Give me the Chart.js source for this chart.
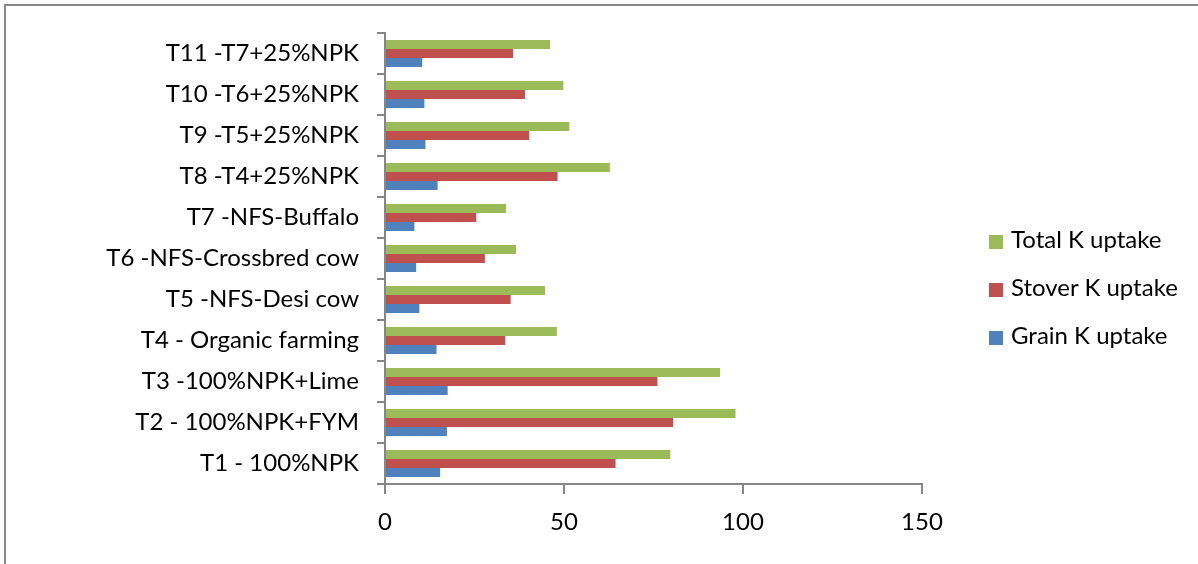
<!DOCTYPE html>
<html>
<head>
<meta charset="utf-8">
<script src="https://cdn.jsdelivr.net/npm/chart.js@4/dist/chart.umd.min.js"></script>
<style>
  html, body { margin: 0; padding: 0; background: #fff; }
  #wrap { position: relative; width: 1198px; height: 564px; overflow: hidden; }
  #c { position: absolute; left: 0; top: 0; }
  #frame { position: absolute; left: 4px; top: 4px; right: -10px; bottom: -10px;
           border-left: 2px solid #8a8a8a; border-top: 2px solid #8a8a8a; pointer-events: none; }
  #legend { position: absolute; left: 989px; top: 224px; font-family: Lato, sans-serif; font-size: 24px; color: #000; }
  .item { position: relative; height: 48px; line-height: 30px; white-space: nowrap; }
  .box { display: inline-block; width: 14px; height: 14px; margin-right: 8px; vertical-align: -1px; }
</style>
</head>
<body>
<div id="wrap">
  <canvas id="c" width="1198" height="564"></canvas>
  <div id="frame"></div>
  <div id="legend"></div>
</div>
<script>
const categories = [
  "T1 - 100%NPK",
  "T2 - 100%NPK+FYM",
  "T3 -100%NPK+Lime",
  "T4 - Organic farming",
  "T5 -NFS-Desi cow",
  "T6 -NFS-Crossbred cow",
  "T7 -NFS-Buffalo",
  "T8 -T4+25%NPK",
  "T9 -T5+25%NPK",
  "T10 -T6+25%NPK",
  "T11 -T7+25%NPK"
];
const totalK  = [79.7, 97.9, 93.6, 48.0, 44.7, 36.6, 33.8, 62.8, 51.5, 49.8, 46.1];
const stoverK = [64.4, 80.5, 76.1, 33.6, 35.1, 27.9, 25.5, 48.2, 40.3, 39.1, 35.8];
const grainK  = [15.4, 17.3, 17.5, 14.4,  9.6,  8.7,  8.2, 14.7, 11.3, 11.0, 10.4];
const xTicks = [0, 50, 100, 150];

const FONT = "Lato, sans-serif";
const AXIS = "#868686";

const datasets = [
  { label: "Total K uptake",  data: totalK,  backgroundColor: "#9BBB59" },
  { label: "Stover K uptake", data: stoverK, backgroundColor: "#C0504D" },
  { label: "Grain K uptake",  data: grainK,  backgroundColor: "#4F81BD" }
];

const chart = new Chart(document.getElementById("c"), {
  type: "bar",
  data: { labels: categories, datasets: datasets.map(d => Object.assign({ categoryPercentage: 0.66, barPercentage: 1.0, borderWidth: 0 }, d)) },
  options: {
    indexAxis: "y",
    responsive: false,
    animation: false,
    devicePixelRatio: 1,
    layout: { padding: { top: 33, right: 276, bottom: 0, left: 0 } },
    plugins: { legend: { display: false }, tooltip: { enabled: false } },
    scales: {
      x: {
        min: 0, max: 150,
        afterBuildTicks: s => { s.ticks = xTicks.map(v => ({ value: v })); },
        afterFit: s => { s.height = 80; },
        border: { color: AXIS, width: 2 },
        grid: { drawOnChartArea: false, drawTicks: true, tickLength: 10, color: AXIS, lineWidth: 2 },
        ticks: { color: "#000", font: { family: FONT, size: 24 }, padding: 14, maxRotation: 0 }
      },
      y: {
        reverse: true,
        afterFit: s => { s.width = 385; },
        border: { color: AXIS, width: 2 },
        grid: { drawOnChartArea: false, drawTicks: true, tickLength: 8, color: AXIS, lineWidth: 2, offset: true },
        ticks: { color: "#000", font: { family: FONT, size: 24 }, padding: 18, autoSkip: false }
      }
    }
  }
});

const leg = document.getElementById("legend");
chart.data.datasets.forEach(d => {
  const it = document.createElement("div");
  it.className = "item";
  const b = document.createElement("span");
  b.className = "box";
  b.style.background = d.backgroundColor;
  it.appendChild(b);
  it.appendChild(document.createTextNode(d.label));
  leg.appendChild(it);
});
</script>
</body>
</html>
